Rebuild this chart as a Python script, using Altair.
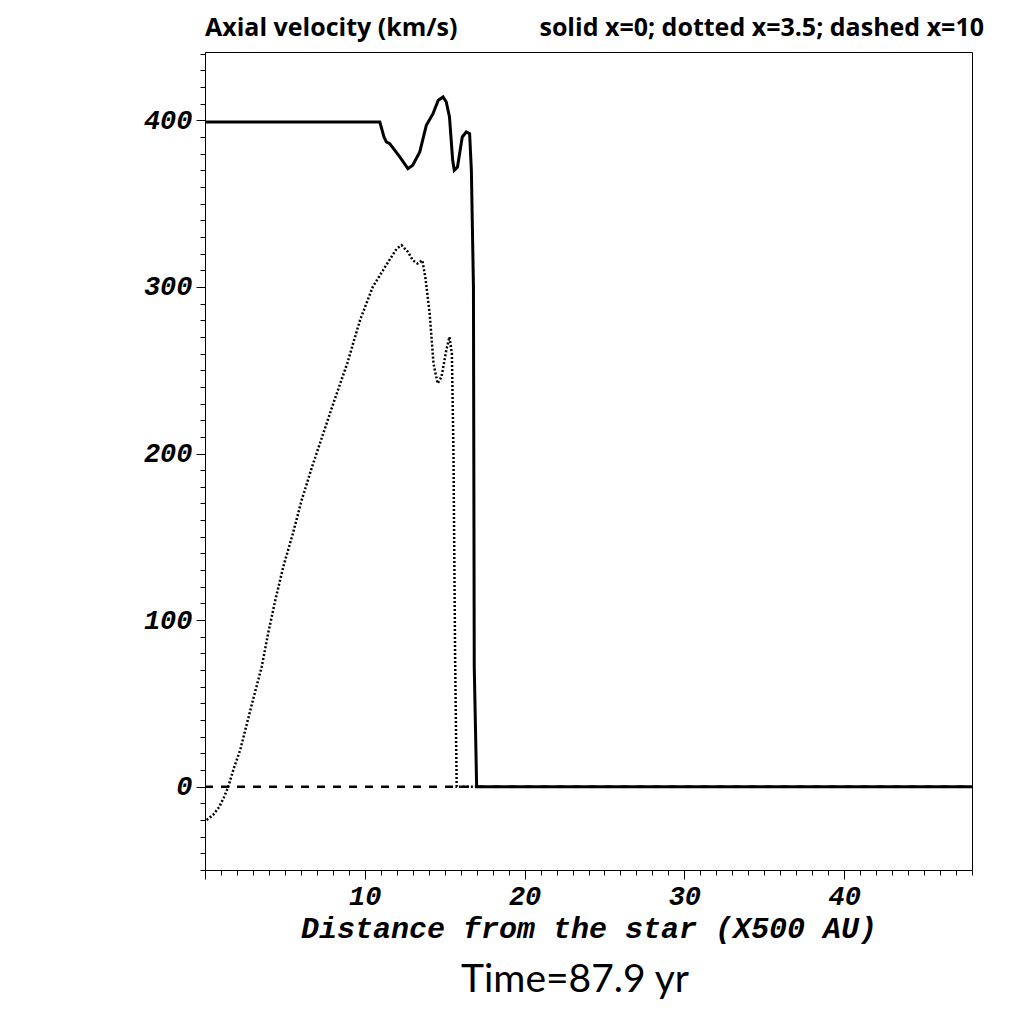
import altair as alt
import pandas as pd

# solid x=0
solid_x = [0, 5, 10.5, 10.94, 11.0, 11.2, 11.35, 11.56, 12.19, 12.7, 13.0, 13.44, 13.85, 14.27, 14.6, 14.9, 15.1, 15.3, 15.5, 15.6, 15.8, 16.1, 16.35, 16.56, 16.67, 16.8, 16.85, 17.0, 20, 30, 40, 48]
solid_y = [399, 399, 399, 399, 397, 390, 387, 386, 378, 371, 373, 381, 397, 404, 412, 414, 411, 402, 376, 370, 372, 390, 393, 392, 370, 300, 72, 0, 0, 0, 0, 0]

# dotted x=3.5
dot_x = [0.1, 0.5, 0.9, 1.2, 1.46, 1.8, 2.2, 2.6, 3.0, 3.55, 3.95, 4.4, 4.9, 5.5, 6.05, 6.7, 7.4, 8.1, 8.9, 9.7, 10.5, 11.4, 12.0, 12.3, 12.7, 13.0, 13.3, 13.6, 13.8, 14.06, 14.3, 14.56, 14.8, 15.1, 15.3, 15.45, 15.55, 15.65, 15.75, 16.5, 17.0]
dot_y = [-20, -17, -12, -6, 0, 11, 22, 37, 52, 72, 92, 112, 132, 152, 172, 192, 212, 232, 254, 280, 300, 314, 323, 325, 321, 316, 314, 316, 305, 284, 254, 242, 246, 262, 270, 260, 200, 80, 0, 0, 0]

# dashed x=10
dash_x = [0, 48]
dash_y = [0, 0]

df = pd.concat([
    pd.DataFrame({"d": solid_x, "v": solid_y, "s": "solid", "o": range(len(solid_x))}),
    pd.DataFrame({"d": dot_x, "v": dot_y, "s": "dotted", "o": range(len(dot_x))}),
    pd.DataFrame({"d": dash_x, "v": dash_y, "s": "dashed", "o": range(len(dash_x))}),
])

tick_font = "Liberation Mono"

xaxis = alt.Axis(
    values=list(range(0, 49)),
    labelExpr="datum.value % 10 === 0 && datum.value > 0 ? datum.label : ''",
    tickSize={"condition": {"test": "datum.value % 10 === 0", "value": 9}, "value": 5},
    title="Distance from the star (X500 AU)",
    titleFont=tick_font, titleFontSize=30, titleFontWeight="bold", titleFontStyle="italic",
    titleColor="black", titlePadding=4,
    labelFont=tick_font, labelFontSize=27, labelFontWeight="bold", labelFontStyle="italic",
    labelColor="black", labelPadding=4, labelFlush=False,
    domainColor="black", tickColor="black", grid=False,
)
yaxis = alt.Axis(
    values=list(range(-50, 441, 10)),
    labelExpr="datum.value % 100 === 0 ? datum.label : ''",
    tickSize={"condition": {"test": "datum.value % 100 === 0", "value": 9}, "value": 5},
    title=None,
    labelFont=tick_font, labelFontSize=27, labelFontWeight="bold", labelFontStyle="italic",
    labelColor="black", labelPadding=4,
    domainColor="black", tickColor="black", grid=False,
)

x = alt.X("d:Q", scale=alt.Scale(domain=[0, 48], nice=False, zero=False), axis=xaxis)
y = alt.Y("v:Q", scale=alt.Scale(domain=[-50, 441], nice=False, zero=False), axis=yaxis)

base = alt.Chart(df)
dashed = base.transform_filter("datum.s === 'dashed'").mark_line(color="black", strokeWidth=2.5, strokeDash=[8, 8]).encode(x=x, y=y, order="o:Q")
dotted = base.transform_filter("datum.s === 'dotted'").mark_line(color="black", strokeWidth=2.5, strokeDash=[2, 2]).encode(x=x, y=y, order="o:Q")
solid = base.transform_filter("datum.s === 'solid'").mark_line(color="black", strokeWidth=3).encode(x=x, y=y, order="o:Q")

txt = pd.DataFrame({"t": ["a"]})
t1 = alt.Chart(txt).mark_text(text="Axial velocity (km/s)", font="Open Sans", fontSize=25, fontWeight="bold", align="left", baseline="middle", color="black").encode(x=alt.value(0), y=alt.value(-24))
t2 = alt.Chart(txt).mark_text(text="solid x=0; dotted x=3.5; dashed x=10", font="Open Sans", fontSize=25, fontWeight="bold", align="right", baseline="middle", color="black").encode(x=alt.value(779), y=alt.value(-24))
t3 = alt.Chart(txt).mark_text(text="Time=87.9 yr", font="Lato", fontSize=39, align="center", baseline="middle", color="black").encode(x=alt.value(370), y=alt.value(928))

chart = alt.layer(dashed, dotted, solid, t1, t2, t3).properties(
    width=767, height=818,
    background="white",
    autosize=alt.AutoSizeParams(type="none"),
    padding={"left": 197, "top": 44, "right": 44, "bottom": 146},
).configure_view(stroke="black", strokeWidth=1)

chart.save("out.html", embed_options={"renderer": "svg", "actions": False})
